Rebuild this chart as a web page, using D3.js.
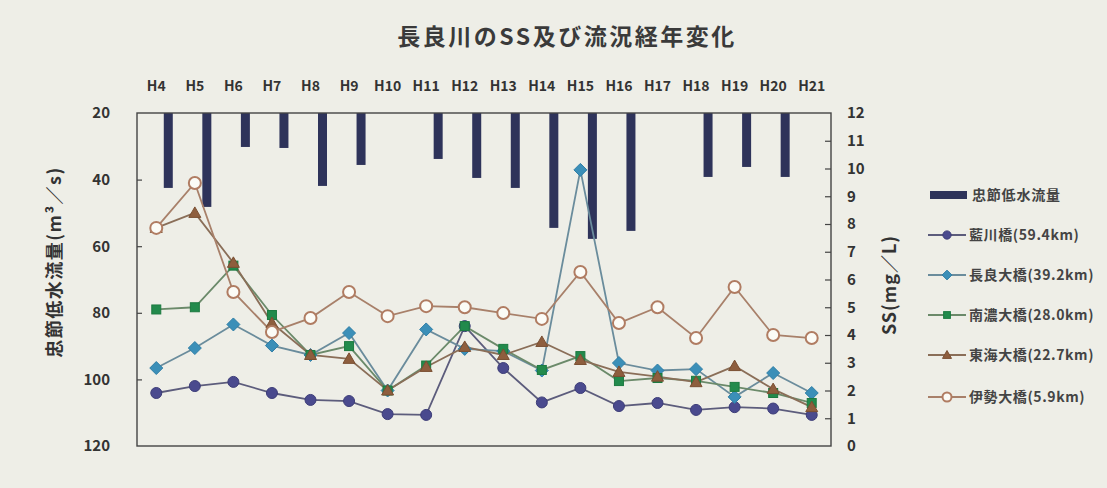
<!DOCTYPE html>
<html><head><meta charset="utf-8">
<script src="https://cdn.jsdelivr.net/npm/d3@7"></script>
<style>
html,body{margin:0;padding:0;background:#efefe8;}
svg{display:block;}
text{font-family:"Noto Sans CJK JP","Noto Sans",sans-serif;}
</style></head>
<body>
<svg id="c" width="1107" height="488"></svg>
<script>
const categories = ["H4","H5","H6","H7","H8","H9","H10","H11","H12","H13","H14","H15","H16","H17","H18","H19","H20","H21"];
// 忠節低水流量 (m3/s) — left axis (reversed, bars hang from 20)
const flow = [42.5, 48.2, 30.2, 30.5, 41.9, 35.6, null, 33.8, 39.5, 42.5, 54.5, 57.8, 55.4, null, 39.2, 36.2, 39.2, null];
// SS (mg/L) — right axis
const aikawa = [1.91, 2.16, 2.31, 1.91, 1.66, 1.62, 1.15, 1.12, 4.32, 2.81, 1.57, 2.09, 1.44, 1.55, 1.3, 1.4, 1.35, 1.12];
const nagara = [2.81, 3.53, 4.38, 3.62, 3.28, 4.07, 2.0, 4.2, 3.5, 3.42, 2.72, 9.95, 2.99, 2.72, 2.77, 1.77, 2.63, 1.91];
const nanno  = [4.92, 5.0, 6.5, 4.72, 3.28, 3.6, 2.0, 2.9, 4.32, 3.5, 2.74, 3.24, 2.34, 2.45, 2.35, 2.13, 1.91, 1.55];
const tokai  = [7.86, 8.4, 6.6, 4.43, 3.28, 3.14, 2.0, 2.85, 3.57, 3.28, 3.75, 3.1, 2.67, 2.5, 2.3, 2.88, 2.05, 1.4];
const ise    = [7.86, 9.48, 5.55, 4.11, 4.61, 5.55, 4.68, 5.04, 5.0, 4.79, 4.58, 6.27, 4.43, 5.0, 3.89, 5.73, 4.0, 3.89];
const leftTicks = [20, 40, 60, 80, 100, 120];
const rightTicks = [0,1,2,3,4,5,6,7,8,9,10,11,12];
const seriesNames = ["藍川橋(59.4km)","長良大橋(39.2km)","南濃大橋(28.0km)","東海大橋(22.7km)","伊勢大橋(5.9km)"];
const barName = "忠節低水流量";
const title = "長良川のSS及び流況経年変化";

const svg = d3.select("#c");
const L = 137, R = 831, T = 113, B = 446;

const x = d3.scaleBand().domain(categories).range([L, R]);
const cx = c => x(c) + x.bandwidth()/2;
const yL = d3.scaleLinear().domain([20, 120]).range([T, B]);
const yR = d3.scaleLinear().domain([0, 12]).range([B, T]);

svg.append("rect").attr("width",1107).attr("height",488).attr("fill","#eeeee7");

// title
svg.append("text").attr("x", 567).attr("y", 45).attr("text-anchor","middle")
  .attr("font-size", 23).attr("font-weight", "bold").attr("letter-spacing", 2.5)
  .attr("fill", "#3a3a3a").text(title);

// top category labels
svg.append("g").selectAll("text").data(categories).join("text")
  .attr("x", d => cx(d)).attr("y", 91).attr("text-anchor","middle")
  .attr("font-size", 14).attr("font-weight","bold").attr("fill","#333")
  .attr("font-family","'Liberation Sans',Arial,sans-serif")
  .text(d => d);

// bars
const barOff = 12, barW = 9;
svg.append("g").selectAll("rect").data(categories.map((c,i)=>({c, v: flow[i]})).filter(d => d.v != null))
  .join("rect")
  .attr("x", d => cx(d.c) + barOff - barW/2)
  .attr("y", yL(20))
  .attr("width", barW)
  .attr("height", d => yL(d.v) - yL(20))
  .attr("fill", "#2e335a");

// frame
svg.append("rect").attr("x", L).attr("y", T).attr("width", R-L).attr("height", B-T)
  .attr("fill","none").attr("stroke","#444").attr("stroke-width",1.4);

// axes
const axL = d3.axisLeft(yL).tickValues(leftTicks).tickSize(-5).tickPadding(27);
const gL = svg.append("g").attr("transform", `translate(${L},0)`).call(axL);
const axR = d3.axisRight(yR).tickValues(rightTicks).tickSize(-6).tickPadding(16);
const gR = svg.append("g").attr("transform", `translate(${R},0)`).call(axR);
[gL, gR].forEach(g => {
  g.select(".domain").remove();
  g.selectAll(".tick line").attr("stroke","#444").attr("stroke-width",1.2);
  g.selectAll(".tick text").attr("font-size", 15).attr("font-weight","bold").attr("fill","#333")
    .attr("font-family","'Liberation Sans',Arial,sans-serif");
});
gL.selectAll(".tick").filter(d => d === 20 || d === 120).select("line").remove();
gR.selectAll(".tick").filter(d => d === 0 || d === 12).select("line").remove();

// axis titles
svg.append("text").attr("transform", "translate(61,262) rotate(-90)").attr("text-anchor","middle")
  .attr("font-size", 18).attr("font-weight","bold").attr("letter-spacing", 1.5).attr("fill","#333")
  .text("忠節低水流量(m³／s)");
svg.append("text").attr("transform", "translate(896,285) rotate(-90)").attr("text-anchor","middle")
  .attr("font-size", 18).attr("font-weight","bold").attr("letter-spacing", 1).attr("fill","#333")
  .text("SS(mg／L)");

// line series
const series = [
  {name: seriesNames[0], data: aikawa, line: "#5c5c7c", fill: "#4a4a8e", stroke: "#3d3d78", shape: "circle", size: 5.5},
  {name: seriesNames[1], data: nagara, line: "#6a8c9c", fill: "#3b8fb8", stroke: "#2f7ea6", shape: "diamond", size: 6.5},
  {name: seriesNames[2], data: nanno,  line: "#6b8a6a", fill: "#228a4c", stroke: "#1c7a40", shape: "square", size: 4.5},
  {name: seriesNames[3], data: tokai,  line: "#8a6e58", fill: "#8e5e3e", stroke: "#7a4f32", shape: "triangle", size: 6},
  {name: seriesNames[4], data: ise,    line: "#a8806a", fill: "#fbfbf6", stroke: "#b07c62", shape: "ocircle", size: 6}
];

function marker(g, shape, size, fill, stroke) {
  if (shape === "circle" || shape === "ocircle") {
    g.append("circle").attr("r", size).attr("fill", fill).attr("stroke", stroke)
      .attr("stroke-width", shape === "ocircle" ? 2 : 1);
  } else if (shape === "diamond") {
    g.append("path").attr("d", `M0,${-size}L${size},0L0,${size}L${-size},0Z`).attr("fill", fill).attr("stroke", stroke);
  } else if (shape === "square") {
    g.append("rect").attr("x",-size).attr("y",-size).attr("width",2*size).attr("height",2*size).attr("fill", fill).attr("stroke", stroke);
  } else if (shape === "triangle") {
    g.append("path").attr("d", `M0,${-size}L${size},${size*0.75}L${-size},${size*0.75}Z`).attr("fill", fill).attr("stroke", stroke);
  }
}

const lineGen = d3.line().x(d => cx(d.c)).y(d => yR(d.v));
series.forEach(s => {
  const pts = categories.map((c,i) => ({c, v: s.data[i]}));
  svg.append("path").datum(pts).attr("d", lineGen).attr("fill","none")
    .attr("stroke", s.line).attr("stroke-width", 1.8);
});
series.forEach(s => {
  const pts = categories.map((c,i) => ({c, v: s.data[i]}));
  const g = svg.append("g");
  pts.forEach(p => {
    const m = g.append("g").attr("transform", `translate(${cx(p.c)},${yR(p.v)})`);
    marker(m, s.shape, s.size, s.fill, s.stroke);
  });
});

// legend
const lg = svg.append("g");
lg.append("rect").attr("x", 930).attr("y", 191).attr("width", 37).attr("height", 8).attr("fill", "#2e335a");
lg.append("text").attr("x", 972).attr("y", 200).attr("font-size", 14).attr("font-weight","bold")
  .attr("letter-spacing", 0.8).attr("fill","#444").text(barName);
const legY = [235, 275, 315, 355, 397];
series.forEach((s, i) => {
  const yy = legY[i];
  lg.append("line").attr("x1", 928).attr("x2", 966).attr("y1", yy).attr("y2", yy)
    .attr("stroke", s.line).attr("stroke-width", 2);
  const m = lg.append("g").attr("transform", `translate(947,${yy})`);
  marker(m, s.shape, s.size * 0.75, s.fill, s.stroke);
  lg.append("text").attr("x", 969).attr("y", yy + 5).attr("font-size", 14).attr("font-weight","bold")
    .attr("letter-spacing", 0.6).attr("fill","#444").text(s.name);
});
</script>
</body></html>
